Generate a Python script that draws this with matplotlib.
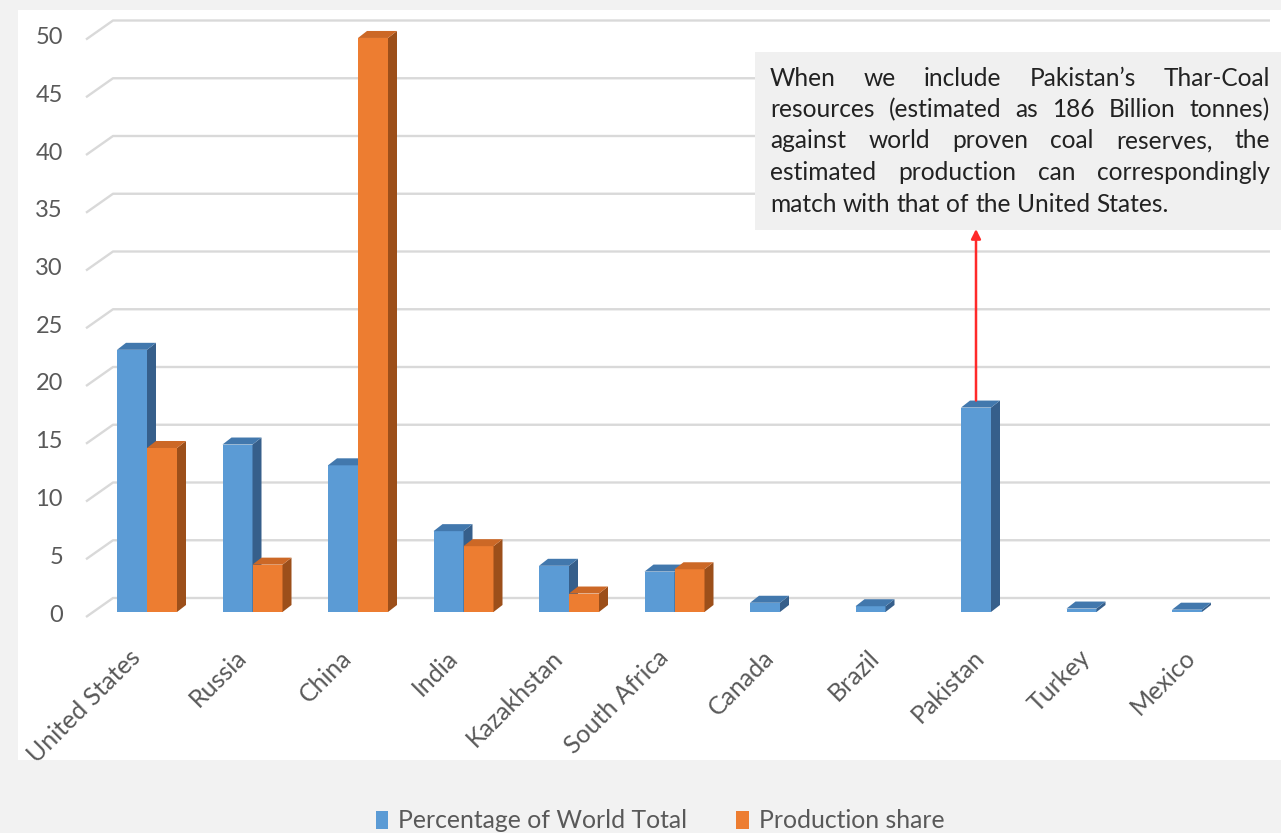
import matplotlib
matplotlib.use("Agg")
import matplotlib.pyplot as plt
from matplotlib.patches import Rectangle, Polygon, Patch
from matplotlib.transforms import offset_copy
import numpy as np

# ---- data -------------------------------------------------------------
countries = ["United States", "Russia", "China", "India", "Kazakhstan",
             "South Africa", "Canada", "Brazil", "Pakistan", "Turkey", "Mexico"]
world_pct = [22.7, 14.5, 12.7, 7.0, 4.0, 3.5, 0.8, 0.5, 17.7, 0.3, 0.2]
production_share = [14.2, 4.1, 49.7, 5.7, 1.6, 3.7, None, None, None, None, None]
y_ticks = [0, 5, 10, 15, 20, 25, 30, 35, 40, 45, 50]
series_names = ["Percentage of World Total", "Production share"]
note_lines = [
    "When we include Pakistan\u2019s Thar-Coal",
    "resources (estimated as 186 Billion tonnes)",
    "against world proven coal reserves, the",
    "estimated production can correspondingly",
    "match with that of the United States.",
]

# ---- styling ----------------------------------------------------------
W_PX, H_PX = 1281, 833
FONT = "Lato"
TXT = "#595959"
GRID = "#d9d9d9"
BLUE = ("#5b9bd5", "#4278ad", "#365f8b")     # front, top, side
ORANGE = ("#ed7d31", "#cc6826", "#9c4f1a")

plt.rcParams["font.family"] = [FONT, "DejaVu Sans"]

fig = plt.figure(figsize=(W_PX / 100, H_PX / 100), dpi=100, facecolor="#f2f2f2")

# white chart panel
fig.patches.append(Rectangle((18 / W_PX, 1 - 760 / H_PX), (W_PX - 18) / W_PX,
                             (760 - 10) / H_PX, transform=fig.transFigure,
                             facecolor="white", edgecolor="none", zorder=-5))

# axes geometry in pixels: bar plane baseline and category pitch
AX_L, AX_R = 80, 1275
Y0_PX, PPY = 612, 11.55          # value 0 pixel row, pixels per unit
X0_PX, PPX = 147, 105.5          # first category centre, pixels per category
y_top = 50
ax_bottom = (H_PX - Y0_PX) / H_PX
ax_height = y_top * PPY / H_PX
ax = fig.add_axes([AX_L / W_PX, ax_bottom, (AX_R - AX_L) / W_PX, ax_height])
ax.set_facecolor("none")
ax.set_xlim((AX_L - X0_PX) / PPX, (AX_R - X0_PX) / PPX)
ax.set_ylim(0, y_top)
for s in ax.spines.values():
    s.set_visible(False)


def xd(px):
    return (px - X0_PX) / PPX


# 3-D style gridlines: a short diagonal on the floor/side and the back wall line
front_x, back_x, end_x = xd(86), xd(113), xd(1270)
front_dy, back_dy = -5 / PPY, 14 / PPY
for v in y_ticks:
    ax.plot([front_x, back_x, end_x], [v + front_dy, v + back_dy, v + back_dy],
            color=GRID, lw=1.7, zorder=1, clip_on=False, solid_capstyle="butt")

# bars with depth
bw = 30 / PPX
ddx, ddy = 9 / PPX, 7 / PPY
xs = np.arange(len(countries))


def bar3d(x_left, h, colors):
    front, top, side = colors
    ax.bar(x_left, h, bw, align="edge", color=front, zorder=3, clip_on=False,
           linewidth=0)
    xr = x_left + bw
    ax.add_patch(Polygon([(xr, 0), (xr + ddx, ddy), (xr + ddx, h + ddy), (xr, h)],
                         closed=True, facecolor=side, edgecolor="none",
                         zorder=3, clip_on=False))
    ax.add_patch(Polygon([(x_left, h), (xr, h), (xr + ddx, h + ddy),
                          (x_left + ddx, h + ddy)], closed=True,
                         facecolor=top, edgecolor="none", zorder=3, clip_on=False))


for i in xs:
    bar3d(i - bw, world_pct[i], BLUE)
    if production_share[i] is not None:
        bar3d(i, production_share[i], ORANGE)

# value axis labels sit at the front ends of the gridlines
ax.set_yticks([])
ax.set_xticks([])
ylab_tr = offset_copy(ax.transData, fig=fig, x=-23, y=0, units="dots")
for v in y_ticks:
    ax.text(front_x, v + front_dy + 2 / PPY, str(v), transform=ylab_tr,
            ha="right", va="center", fontsize=17, color=TXT)

lab_tr = offset_copy(ax.transData, fig=fig, x=-10, y=-42, units="dots")
for i, name in enumerate(countries):
    ax.text(i, 0, name, transform=lab_tr, rotation=45, rotation_mode="anchor",
            ha="right", va="center", fontsize=18, color=TXT)

# note box
BOX_L, BOX_T, BOX_B = 755, 52, 230
fig.patches.append(Rectangle((BOX_L / W_PX, 1 - BOX_B / H_PX), (W_PX - BOX_L) / W_PX,
                             (BOX_B - BOX_T) / H_PX, transform=fig.transFigure,
                             facecolor="#f0f0f0", edgecolor="none", zorder=5))

renderer = fig.canvas.get_renderer()
TX_L, TX_R = 770, 1270
LINE0, LSTEP = 78, 31.5
note_fs = 16.0


def width_px(s, fs):
    t = fig.text(0, 0, s, fontsize=fs)
    w = t.get_window_extent(renderer).width
    t.remove()
    return w


# size the font so the closing line spans the same width as drawn
target = 401
note_fs = note_fs * target / width_px(note_lines[-1], note_fs)
space_w = width_px("a b", note_fs) - width_px("ab", note_fs)

for k, line in enumerate(note_lines):
    yy = 1 - (LINE0 + k * LSTEP) / H_PX
    words = line.split(" ")
    widths = [width_px(w, note_fs) for w in words]
    if k < len(note_lines) - 1 and len(words) > 1:
        gap = (TX_R - TX_L - sum(widths)) / (len(words) - 1)
    else:
        gap = space_w
    x = TX_L
    for w, wd in zip(words, widths):
        fig.text(x / W_PX, yy, w, fontsize=note_fs, color="#222222",
                 ha="left", va="center", zorder=6)
        x += wd + gap

# arrow from the Pakistan bar up to the note
pk = countries.index("Pakistan")
ax_x = pk - bw / 2
ax.annotate("", xy=(ax_x, (Y0_PX - BOX_B + 1) / PPY),
            xytext=(ax_x, world_pct[pk] + ddy),
            arrowprops=dict(arrowstyle="-|>", color="#ff2a2a", lw=1.8,
                            mutation_scale=14, shrinkA=0, shrinkB=0),
            zorder=7, annotation_clip=False)

# legend
handles = [Patch(facecolor=BLUE[0], edgecolor="none"),
           Patch(facecolor=ORANGE[0], edgecolor="none")]
fig.legend(handles, series_names, loc="center",
           bbox_to_anchor=(660 / W_PX, 1 - 821 / H_PX), ncol=2, frameon=False,
           fontsize=17.8, labelcolor=TXT, handlelength=0.5, handleheight=0.7,
           handletextpad=0.4, columnspacing=2.0)

fig.savefig("out.png", dpi=100, facecolor=fig.get_facecolor())
